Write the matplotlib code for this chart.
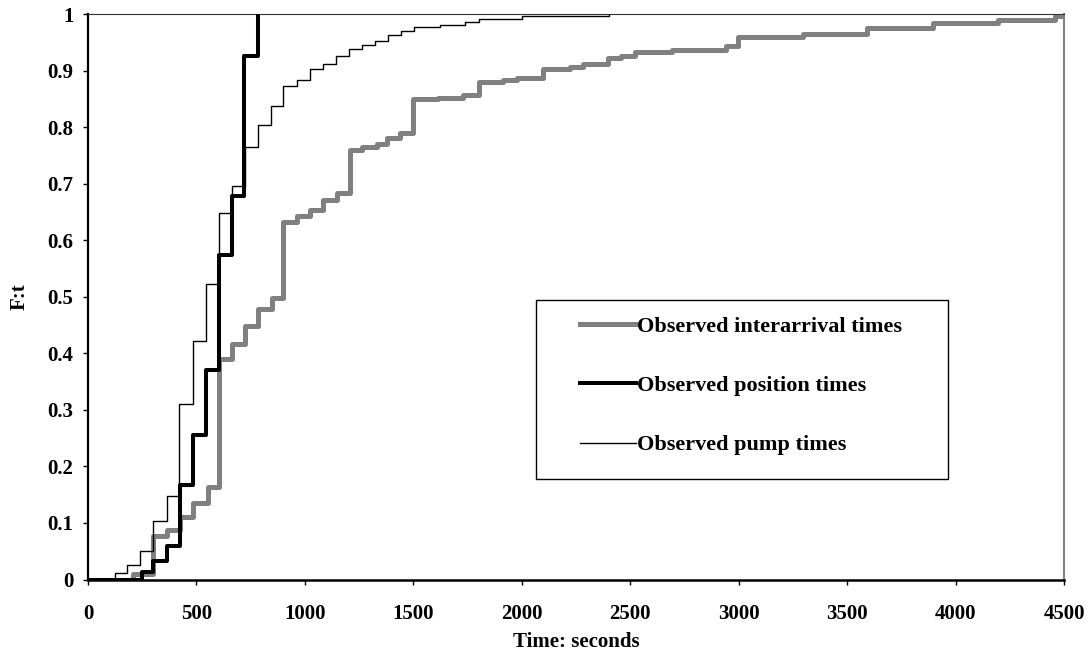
import matplotlib
matplotlib.use("Agg")
import matplotlib.pyplot as plt
from matplotlib.patches import Rectangle

# ---- data ----
interarrival_t = [0, 208, 300, 363, 424, 486, 555, 604, 662, 724, 785, 847, 901, 962,
                  1024, 1085, 1147, 1208, 1262, 1331, 1377, 1438, 1500, 1615, 1730, 1803,
                  1915, 1976, 2099, 2222, 2281, 2397, 2456, 2520, 2694, 2941, 2997, 3298,
                  3593, 3895, 4197, 4460, 4500]
interarrival_F = [0, 0.01, 0.077, 0.087, 0.111, 0.135, 0.164, 0.39, 0.417, 0.449, 0.479,
                  0.497, 0.633, 0.642, 0.653, 0.671, 0.683, 0.759, 0.765, 0.770, 0.780,
                  0.789, 0.849, 0.852, 0.856, 0.880, 0.883, 0.886, 0.903, 0.907, 0.912,
                  0.922, 0.926, 0.932, 0.936, 0.943, 0.959, 0.964, 0.975, 0.984, 0.990,
                  0.996, 1.0]

position_t = [0, 247, 301, 363, 424, 486, 542, 604, 662, 721, 782]
position_F = [0, 0.013, 0.032, 0.059, 0.167, 0.255, 0.370, 0.573, 0.679, 0.925, 1.0]

pump_t = [0, 124, 178, 240, 301, 363, 421, 483, 544, 604, 662, 724, 782, 842, 901, 962,
          1024, 1085, 1143, 1203, 1262, 1323, 1385, 1441, 1503, 1623, 1738, 1804, 2000, 2400]
pump_F = [0, 0.012, 0.026, 0.050, 0.103, 0.148, 0.311, 0.422, 0.523, 0.648, 0.695, 0.764,
          0.804, 0.838, 0.873, 0.883, 0.902, 0.912, 0.926, 0.938, 0.946, 0.952, 0.963,
          0.970, 0.977, 0.981, 0.986, 0.992, 0.996, 1.0]

series_labels = ["Observed interarrival times", "Observed position times", "Observed pump times"]
x_ticks = [0, 500, 1000, 1500, 2000, 2500, 3000, 3500, 4000, 4500]
y_ticks = [0, 0.1, 0.2, 0.3, 0.4, 0.5, 0.6, 0.7, 0.8, 0.9, 1.0]

# ---- style ----
plt.rcParams["font.family"] = ["Liberation Serif", "DejaVu Serif"]
plt.rcParams["font.weight"] = "bold"

W, H = 1092, 657
fig = plt.figure(figsize=(W / 100, H / 100), dpi=100)
x0, x1, ytop, ybot = 88, 1064, 14, 579.5
ax = fig.add_axes([x0 / W, 1 - ybot / H, (x1 - x0) / W, (ybot - ytop) / H])

l1, = ax.step(interarrival_t, interarrival_F, where="post", color="#808080", lw=3.6,
              label=series_labels[0], zorder=2)
l2, = ax.step(position_t, position_F, where="post", color="black", lw=2.9,
              label=series_labels[1], zorder=3)
l3, = ax.step(pump_t, pump_F, where="post", color="black", lw=1.0,
              label=series_labels[2], zorder=4)

ax.set_xlim(0, 4500)
ax.set_ylim(0, 1)
ax.set_xticks(x_ticks)
ax.set_xticklabels([str(v) for v in x_ticks])
ax.set_yticks(y_ticks)
ax.set_yticklabels([f"{v:g}" for v in y_ticks])
ax.tick_params(axis="both", direction="out", length=3.6, width=1.0, labelsize=15)
ax.tick_params(axis="x", pad=14)
ax.tick_params(axis="y", pad=7)
for lab in ax.get_xticklabels() + ax.get_yticklabels():
    lab.set_fontweight("bold")

ax.spines["left"].set_linewidth(1.6)
ax.spines["bottom"].set_linewidth(1.8)
ax.spines["top"].set_linewidth(0.8)
ax.spines["top"].set_color("#333333")
ax.spines["right"].set_linewidth(1.5)
ax.spines["right"].set_color("#808080")

ax.set_xlabel("Time: seconds", fontsize=15, fontweight="bold", labelpad=6)
ax.set_ylabel("F:t", fontsize=15, fontweight="bold", labelpad=13)

# legend
def px2ax(px, py):
    return (px - x0) / (x1 - x0), (ybot - py) / (ybot - ytop)

bx0, by0 = px2ax(536, 479)
bx1, by1 = px2ax(948, 300)
ax.add_patch(Rectangle((bx0, by0), bx1 - bx0, by1 - by0, transform=ax.transAxes,
                       facecolor="white", edgecolor="black", lw=1.0, zorder=5))
hx, hy = px2ax(580, 316)
leg = ax.legend(handles=[l1, l2, l3], labels=series_labels, loc="upper left",
                bbox_to_anchor=(hx, hy), borderaxespad=0, borderpad=0, frameon=False,
                handlelength=2.5, handletextpad=0.05, labelspacing=1.75,
                prop={"family": ["Liberation Serif"], "weight": "bold", "size": 16})
leg.set_zorder(6)

fig.savefig("out.png", dpi=100, facecolor="white")
